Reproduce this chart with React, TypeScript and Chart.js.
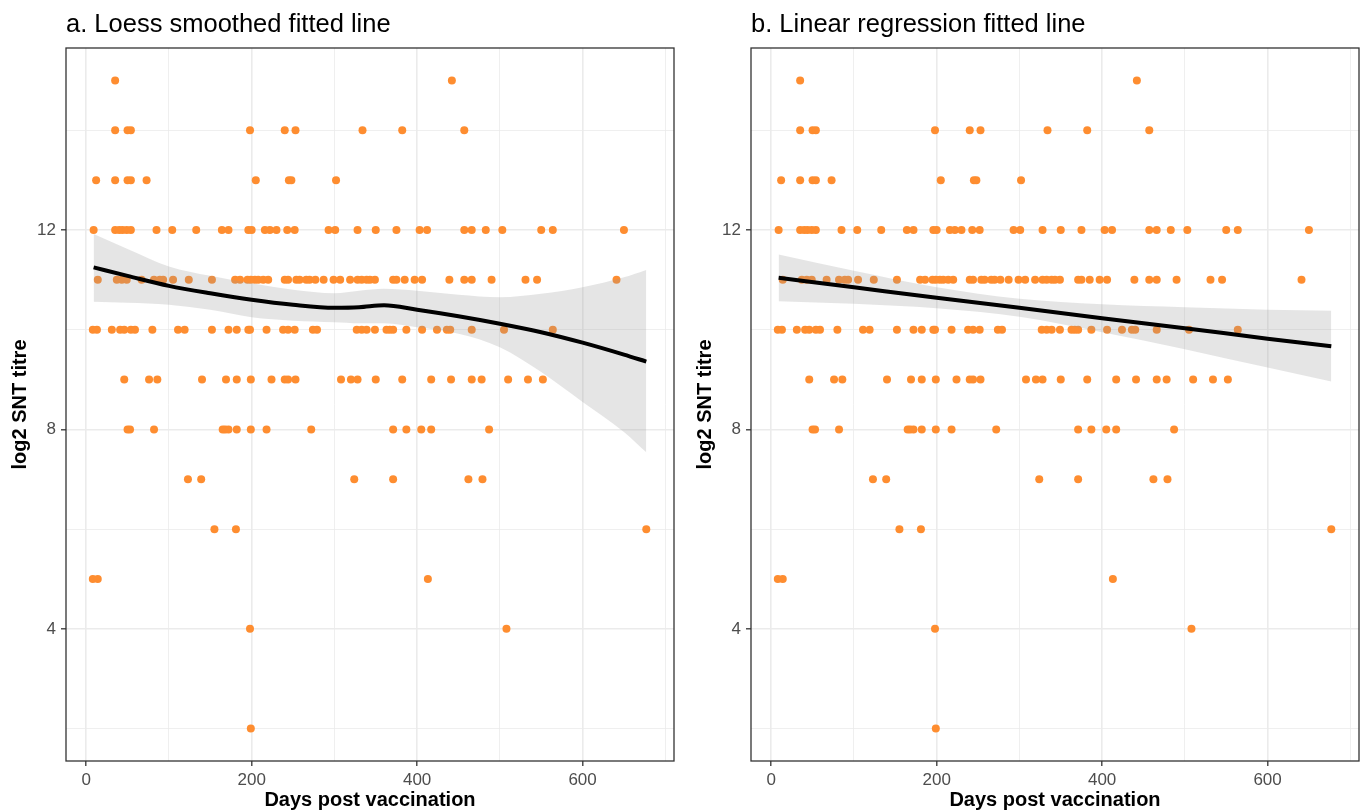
import React, { useEffect, useRef } from 'react';
import { Chart, registerables } from 'chart.js';

Chart.register(...registerables);

// ---- Observed data: days post vaccination grouped by log2 SNT titre ----
const titreLevels = [15, 14, 13, 12, 11, 10, 9, 8, 7, 6, 5, 4, 2];
const days15 = [35, 442];
const days14 = [35, 50, 54, 198, 240, 253, 334, 382, 457];
const days13 = [12, 35, 50, 54, 73, 205, 245, 248, 302];
const days12 = [9, 35, 40, 44, 49, 54, 85, 104, 133, 164, 172, 196, 200, 216, 222, 230, 243, 252, 293, 301, 328, 350, 375, 403, 412, 457, 466, 483, 503, 550, 564, 650];
const days11 = [14, 37, 43, 49, 67, 82, 89, 93, 105, 124, 152, 180, 186, 195, 199, 204, 208, 214, 220, 240, 244, 254, 258, 266, 270, 277, 287, 299, 307, 319, 328, 333, 339, 343, 349, 371, 375, 385, 397, 406, 439, 457, 466, 490, 531, 545, 641];
const days10 = [8, 13, 31, 41, 46, 54, 59, 80, 111, 119, 152, 172, 182, 196, 198, 218, 238, 244, 252, 274, 279, 327, 333, 339, 349, 363, 367, 371, 387, 406, 424, 436, 440, 466, 505, 564];
const days9 = [46, 76, 86, 140, 169, 182, 199, 224, 240, 244, 253, 308, 320, 328, 350, 382, 417, 441, 466, 478, 510, 534, 552];
const days8 = [50, 53, 82, 165, 168, 172, 182, 199, 218, 272, 371, 387, 405, 417, 487];
const days7 = [123, 139, 324, 371, 462, 479];
const days6 = [155, 181, 677];
const days5 = [8, 14, 413];
const days4 = [198, 508];
const days2 = [199];
const daysByTitre = [days15, days14, days13, days12, days11, days10, days9, days8, days7, days6, days5, days4, days2];

// ---- Loess smoothed fit with confidence band ----
const loessDays = [9, 50, 100, 150, 200, 250, 300, 330, 360, 400, 450, 500, 550, 600, 650, 677];
const loessFit = [11.25, 11.08, 10.88, 10.73, 10.6, 10.5, 10.44, 10.45, 10.49, 10.4, 10.27, 10.12, 9.95, 9.74, 9.5, 9.36];
const loessUpper = [11.92, 11.62, 11.27, 11.08, 10.93, 10.8, 10.73, 10.78, 10.82, 10.78, 10.7, 10.65, 10.72, 10.85, 11.05, 11.2];
const loessLower = [10.56, 10.54, 10.5, 10.4, 10.25, 10.18, 10.15, 10.13, 10.13, 10.05, 9.92, 9.65, 9.15, 8.55, 7.95, 7.54];

// ---- Linear regression fit with confidence band ----
const lmDays = [9, 100, 200, 300, 400, 500, 600, 677];
const lmFit = [11.04, 10.85, 10.64, 10.44, 10.23, 10.03, 9.82, 9.67];
const lmUpper = [11.51, 11.18, 10.85, 10.62, 10.51, 10.45, 10.4, 10.38];
const lmLower = [10.57, 10.52, 10.43, 10.26, 9.95, 9.61, 9.24, 8.96];

// ---- Axes ----
const xGridValues = [0, 100, 200, 300, 400, 500, 600, 700];
const xLabelValues = [0, 200, 400, 600];
const yGridValues = [2, 4, 6, 8, 10, 12, 14];
const yLabelValues = [4, 8, 12];
const X_MIN = -24.4;
const X_MAX = 710.5;
const Y_MIN = 1.35;
const Y_MAX = 15.65;

const FONT = "'Liberation Sans', Arial, sans-serif";
const ORANGE = '#FE8D30';

const points = titreLevels.flatMap((t, i) => daysByTitre[i].map((d) => ({ x: d, y: t })));
const toXY = (xs: number[], ys: number[]) => xs.map((x, i) => ({ x, y: ys[i] }));

const panelBorder = {
  id: 'panelBorder',
  afterDraw(chart: any) {
    const { ctx, chartArea: a } = chart;
    ctx.save();
    ctx.strokeStyle = '#333333';
    ctx.lineWidth = 1.3;
    ctx.strokeRect(a.left, a.top, a.right - a.left, a.bottom - a.top);
    ctx.restore();
  },
};

function makeConfig(
  title: string,
  fitX: number[],
  fitY: number[],
  upY: number[],
  loY: number[],
  padLeft: number,
  padRight: number
): any {
  const gridColor = '#EBEBEB';
  return {
    type: 'scatter',
    data: {
      datasets: [
        {
          type: 'line',
          data: toXY(fitX, fitY),
          borderColor: '#000000',
          borderWidth: 4,
          pointRadius: 0,
          cubicInterpolationMode: 'monotone',
          fill: false,
          order: 1,
        },
        {
          type: 'line',
          data: toXY(fitX, loY),
          borderColor: 'rgba(0,0,0,0)',
          borderWidth: 0,
          pointRadius: 0,
          cubicInterpolationMode: 'monotone',
          fill: false,
          order: 2,
        },
        {
          type: 'line',
          data: toXY(fitX, upY),
          borderColor: 'rgba(0,0,0,0)',
          borderWidth: 0,
          pointRadius: 0,
          cubicInterpolationMode: 'monotone',
          fill: '-1',
          backgroundColor: 'rgba(153,153,153,0.25)',
          order: 2,
        },
        {
          type: 'scatter',
          data: points,
          backgroundColor: ORANGE,
          borderWidth: 0,
          pointRadius: 4,
          pointHoverRadius: 4,
          order: 3,
        },
      ],
    },
    options: {
      responsive: false,
      animation: false,
      events: [],
      layout: { padding: { left: padLeft, right: padRight, top: 0, bottom: 0 } },
      plugins: {
        legend: { display: false },
        tooltip: { enabled: false },
        title: {
          display: true,
          text: title,
          align: 'start',
          fullSize: false,
          color: '#000000',
          font: { family: FONT, size: 25.5, weight: 'normal', lineHeight: 1.2 },
          padding: { top: 9.5, bottom: 7.9 },
        },
      },
      scales: {
        x: {
          type: 'linear',
          min: X_MIN,
          max: X_MAX,
          afterBuildTicks: (s: any) => {
            s.ticks = xGridValues.map((v) => ({ value: v }));
          },
          afterFit: (s: any) => {
            s.height = 50;
          },
          border: { display: false },
          grid: {
            color: gridColor,
            lineWidth: (c: any) => (c.tick && xLabelValues.includes(c.tick.value) ? 1.6 : 0.8),
            tickLength: 5,
            tickWidth: 1.3,
            tickColor: (c: any) => (c.tick && xLabelValues.includes(c.tick.value) ? '#333333' : 'rgba(0,0,0,0)'),
          },
          ticks: {
            autoSkip: false,
            maxRotation: 0,
            padding: 4,
            color: '#4D4D4D',
            font: { family: FONT, size: 17 },
            callback: (v: any) => (xLabelValues.includes(v) ? String(v) : ''),
          },
          title: {
            display: true,
            text: 'Days post vaccination',
            color: '#000000',
            font: { family: FONT, size: 20, weight: 'bold', lineHeight: 1 },
            padding: { top: 0, bottom: 0.5 },
          },
        },
        y: {
          type: 'linear',
          min: Y_MIN,
          max: Y_MAX,
          afterBuildTicks: (s: any) => {
            s.ticks = yGridValues.map((v) => ({ value: v }));
          },
          afterFit: (s: any) => {
            s.width = 66;
          },
          border: { display: false },
          grid: {
            color: gridColor,
            lineWidth: (c: any) => (c.tick && yLabelValues.includes(c.tick.value) ? 1.6 : 0.8),
            tickLength: 5,
            tickWidth: 1.3,
            tickColor: (c: any) => (c.tick && yLabelValues.includes(c.tick.value) ? '#333333' : 'rgba(0,0,0,0)'),
          },
          ticks: {
            autoSkip: false,
            padding: 5,
            color: '#4D4D4D',
            font: { family: FONT, size: 17 },
            callback: (v: any) => (yLabelValues.includes(v) ? String(v) : ''),
          },
          title: {
            display: true,
            text: 'log2 SNT titre',
            color: '#000000',
            font: { family: FONT, size: 20, weight: 'bold', lineHeight: 1.2 },
            padding: { top: 8, bottom: 0 },
          },
        },
      },
    },
    plugins: [panelBorder],
  };
}

function Panel({ left, width, config }: { left: number; width: number; config: any }) {
  const ref = useRef<HTMLCanvasElement | null>(null);
  useEffect(() => {
    if (!ref.current) return;
    const chart = new Chart(ref.current, config);
    return () => chart.destroy();
  }, [config]);
  return (
    <canvas
      ref={ref}
      width={width}
      height={811}
      style={{ position: 'absolute', left, top: 0, width, height: 811, display: 'block' }}
    />
  );
}

const configA = makeConfig('a. Loess smoothed fitted line', loessDays, loessFit, loessUpper, loessLower, 0, 7);
const configB = makeConfig('b. Linear regression fitted line', lmDays, lmFit, lmUpper, lmLower, 4, 4);

export default function App() {
  return (
    <div style={{ position: 'absolute', left: 0, top: 0, width: 1363, height: 811, background: '#ffffff', overflow: 'hidden' }}>
      <Panel left={0} width={681} config={configA} />
      <Panel left={681} width={682} config={configB} />
    </div>
  );
}
